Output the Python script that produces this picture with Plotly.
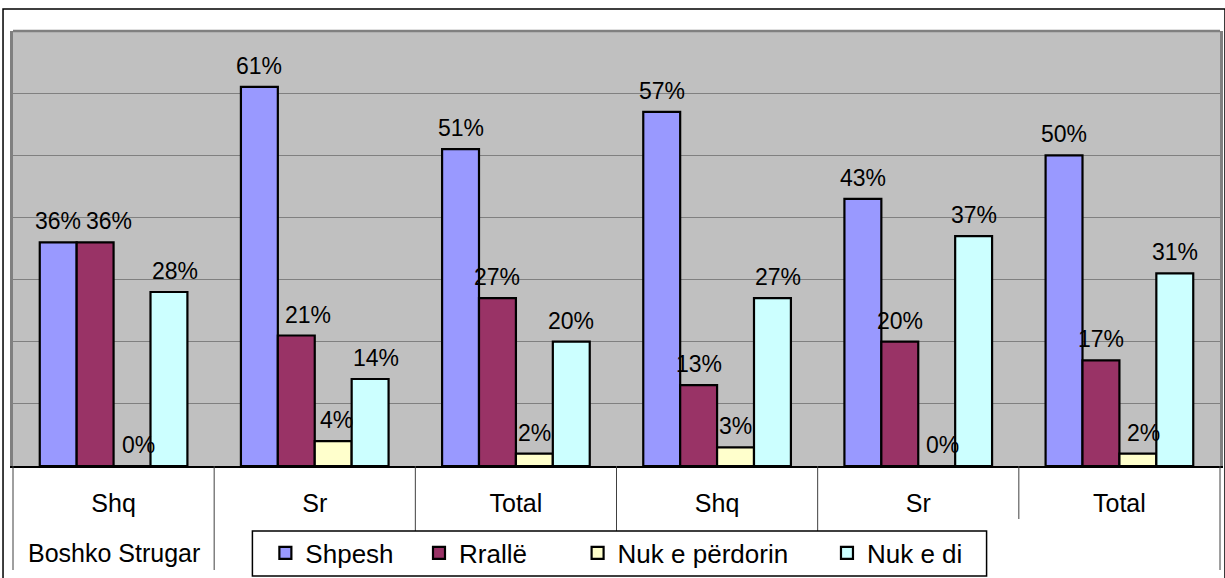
import plotly.graph_objects as go

# ---------------- data ----------------
categories = ["Shq", "Sr", "Total", "Shq", "Sr", "Total"]
outer_label = "Boshko Strugar"
series_names = ["Shpesh", "Rrallë", "Nuk e përdorin", "Nuk e di"]
shpesh = [0.36, 0.61, 0.51, 0.57, 0.43, 0.50]
ralle = [0.36, 0.21, 0.27, 0.13, 0.20, 0.17]
nuk_perdorin = [0.00, 0.04, 0.02, 0.03, 0.00, 0.02]
nuk_di = [0.28, 0.14, 0.20, 0.27, 0.37, 0.31]
series_values = [shpesh, ralle, nuk_perdorin, nuk_di]
colors = ["#9999FF", "#993366", "#FFFFCC", "#CCFFFF"]

# label nudges (style only): (series index, category index) -> px shift right
label_xshift = {(1, 0): 14, (1, 1): 12, (3, 0): 6, (3, 1): 6, (2, 0): 6,
                (2, 4): 6, (3, 3): 6, (2, 5): 6, (2, 1): 3}

# ---------------- layout geometry ----------------
W, H = 1225, 578
ML, MR, MT, MB = 13, 2, 31, 112
PW = W - ML - MR
PH = H - MT - MB
FONT = "Liberation Sans, Arial, sans-serif"
BARGAP = 0.266


def px_x(px):
    return (px - ML) / PW


def px_y(py):
    return (MT + PH - py) / PH


xpos = list(range(len(categories)))

fig = go.Figure()
legend_ids = ["legend", "legend2", "legend3", "legend4"]
for name, vals, col, lg in zip(series_names, series_values, colors, legend_ids):
    fig.add_trace(go.Bar(
        x=xpos, y=vals, name=name, legend=lg, showlegend=True,
        marker=dict(color=col, line=dict(color="black", width=2.2)),
    ))

# data labels (above each bar)
n = len(series_values)
group_w = 1 - BARGAP
annotations = []
for i, vals in enumerate(series_values):
    off = -group_w / 2 + (i + 0.5) * group_w / n
    for j, v in enumerate(vals):
        annotations.append(dict(
            x=j + off, y=v, xref="x", yref="y",
            text=f"{round(v * 100)}%", showarrow=False,
            yanchor="middle", yshift=21, xshift=label_xshift.get((i, j), 0),
            font=dict(family=FONT, size=23, color="black"),
        ))

# outer category label
annotations.append(dict(
    x=0, y=px_y(553), xref="x", yref="paper", text=outer_label,
    showarrow=False, yanchor="middle", xanchor="center",
    font=dict(family=FONT, size=25, color="black"),
))

shapes = []
# outer chart border
shapes.append(dict(type="rect", xref="paper", yref="paper",
                   x0=px_x(3), x1=px_x(1228), y0=px_y(581), y1=px_y(9),
                   line=dict(color="black", width=1.5), layer="above"))
# plot area top border (gray)
shapes.append(dict(type="line", xref="paper", yref="paper",
                   x0=0, x1=1, y0=1, y1=1,
                   line=dict(color="#808080", width=2.5), layer="above"))
# category dividers
ncat = len(categories)
for k in range(ncat + 1):
    bottom = 519 if k == ncat - 1 else 570
    shapes.append(dict(type="line", xref="paper", yref="paper",
                       x0=k / ncat, x1=k / ncat, y0=0, y1=px_y(bottom),
                       line=dict(color="#404040", width=1), layer="above"))
# legend box
shapes.append(dict(type="rect", xref="paper", yref="paper",
                   x0=px_x(253), x1=px_x(989), y0=px_y(576), y1=px_y(531),
                   fillcolor="white", line=dict(color="black", width=1.5),
                   layer="above"))

layout_legends = {}
legend_left_px = [266, 420, 579, 829]
for lg, lx in zip(legend_ids, legend_left_px):
    layout_legends[lg] = dict(
        x=px_x(lx), y=px_y(553), xanchor="left", yanchor="middle",
        orientation="h", bgcolor="rgba(0,0,0,0)", borderwidth=0,
        font=dict(family=FONT, size=26, color="black"),
    )

fig.update_layout(
    width=W, height=H, showlegend=True,
    margin=dict(l=ML, r=MR, t=MT, b=MB, pad=0),
    paper_bgcolor="white", plot_bgcolor="#C0C0C0",
    barmode="group", bargap=BARGAP, bargroupgap=0,
    font=dict(family=FONT, size=22, color="black"),
    annotations=annotations, shapes=shapes,
    **layout_legends,
)
fig.update_xaxes(
    tickmode="array", tickvals=xpos, ticktext=categories,
    range=[-0.5, ncat - 0.5], showgrid=False, zeroline=False,
    showline=True, linecolor="black", linewidth=1.5,
    ticks="outside", ticklen=14, tickcolor="rgba(0,0,0,0)",
    tickfont=dict(family=FONT, size=25, color="black"),
)
fig.update_yaxes(
    range=[0, 0.7], dtick=0.1, showticklabels=False,
    showgrid=True, gridcolor="#808080", gridwidth=1, zeroline=False,
    showline=True, linecolor="#808080", linewidth=2.5, mirror=True,
)

fig.write_html("out.html", config={"displayModeBar": False},
               post_script="document.body.style.margin='0px';")
